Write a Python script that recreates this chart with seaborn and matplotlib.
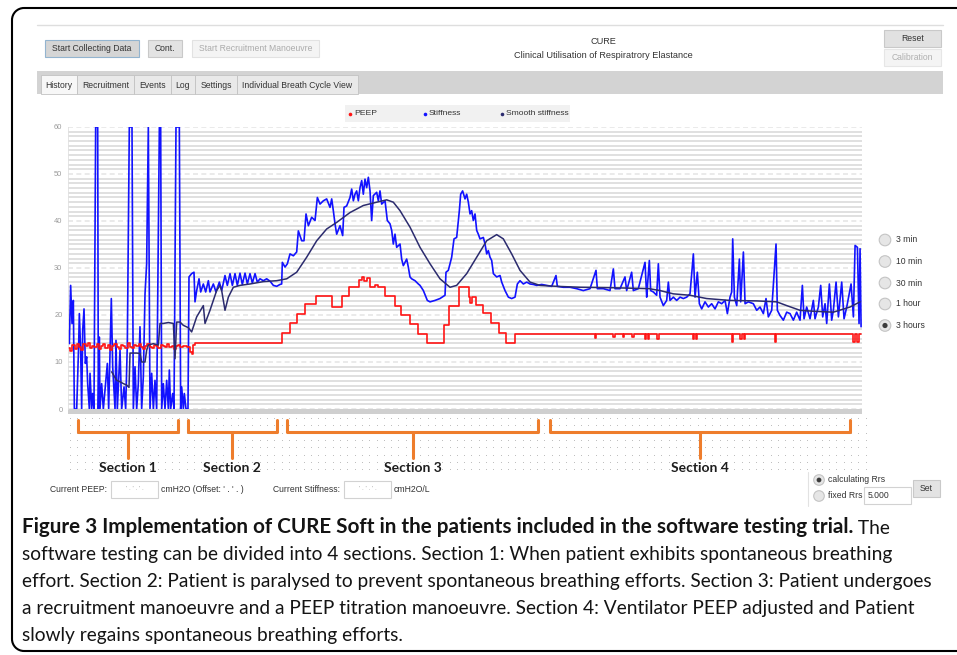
import numpy as np
import pandas as pd
import seaborn as sns
import matplotlib
matplotlib.use("Agg")
import matplotlib.pyplot as plt
from matplotlib.patches import Rectangle, Circle, Arc
from matplotlib.transforms import blended_transform_factory


# Values; time in minutes over the 3 hour window.
stiffness_t = [
    0.08, 0.30, 0.60, 0.91, 1.21, 1.44, 1.97, 2.42, 2.57, 2.87, 3.10, 3.33, 3.63, 3.93, 4.23, 4.46,
    4.84, 4.99, 5.37, 5.59, 5.89, 6.27, 6.73, 6.88, 7.10, 7.25, 7.63, 8.01, 8.92, 9.22, 9.82, 10.13,
    10.66, 10.88, 11.18, 11.79, 12.17, 12.70, 13.07, 13.45, 13.90, 14.51, 14.81, 15.19, 15.57, 15.94,
    16.32, 16.70, 17.08, 17.46, 17.83, 18.21, 18.59, 18.97, 19.35, 19.72, 20.10, 20.71, 21.01, 21.24,
    21.61, 21.99, 22.37, 22.75, 22.97, 23.27, 23.73, 24.03, 24.48, 25.24, 25.54, 25.77, 26.15, 26.37,
    26.75, 27.20,
    27.43, 28.03, 28.56, 28.79, 29.17, 29.70, 30.08, 30.68, 31.21, 31.82, 32.19, 32.95, 33.55, 34.31,
    34.84, 35.59, 36.12, 36.73, 37.26, 37.86, 38.39, 38.99, 39.52, 40.13, 40.66, 41.26, 41.79, 42.40,
    42.92, 43.53, 44.28, 45.04, 45.80, 46.55, 47.31, 48.06, 48.44,
    48.59, 49.20, 49.73, 50.33, 51.09, 51.84, 52.22, 52.98, 53.50, 53.96, 54.49, 55.24, 56.00, 56.53,
    57.13, 57.89, 58.64, 59.40, 59.78, 60.15, 60.53, 60.91, 61.66, 62.27, 62.57, 63.17, 63.93, 64.31,
    64.69, 65.06, 65.44, 65.82, 66.20, 66.58, 66.95, 67.33, 67.71, 68.09, 68.47, 68.84, 69.22, 69.98,
    70.35, 70.73, 71.11, 71.87, 72.39, 73.00, 73.38, 73.75, 74.13, 74.51, 75.27, 75.64, 76.02, 76.78,
    77.15, 77.53, 77.91, 78.67, 79.42, 79.80, 80.56, 81.46, 82.07, 83.20, 84.33, 85.47, 85.69, 86.22,
    86.98, 87.51, 88.11, 88.72, 89.02, 89.46, 90.00, 90.38, 90.76, 91.14, 91.51, 91.89, 92.27, 92.65,
    93.02, 93.40, 94.16, 94.54, 94.92, 95.29, 95.67, 96.05, 96.43, 97.18, 97.94, 98.32, 99.07, 99.83,
    100.58, 101.34, 101.87, 102.47, 103.23, 103.99, 104.74, 105.50, 106.25, 107.39,
    108.52, 109.65, 110.63, 110.93, 112.29, 113.80, 115.31, 116.83, 118.34, 119.70, 120.00, 121.36,
    122.87, 123.63, 124.00, 125.14, 126.27, 126.65, 127.78, 128.16, 129.29, 130.81, 131.19, 131.34,
    131.79, 132.09, 132.70, 133.45, 133.83, 134.21, 134.96, 135.72, 136.10, 136.48, 137.23, 137.99,
    138.75, 139.50, 140.26, 141.01, 141.77, 142.15, 142.67, 143.13, 143.66, 144.41, 145.17, 145.92,
    146.68, 147.44, 148.19, 148.95, 149.48, 150.08, 150.46, 150.69, 151.07, 151.60, 152.20, 152.50,
    153.11, 153.49, 154.24, 155.37, 156.13, 156.88, 157.64, 158.24, 158.77, 159.53, 160.51, 160.81,
    161.41, 162.17, 162.93, 163.68, 164.44, 165.19, 165.95, 166.48, 166.86, 167.46, 168.22, 168.97,
    169.35, 170.11, 170.64, 171.09, 171.62, 172.00, 172.60, 173.13, 173.51, 174.12, 174.65, 175.40,
    175.93, 176.54, 177.52, 178.05, 178.43, 178.96, 179.33, 179.56, 179.79,
]
stiffness_v = [
    16.7, 13.9, 26.3, 18.2, 23.1, 0, 0, 13.9, 20.3, 12.5, 0, 16.7, 21.3, 9.7, 11.1, 5.4,
    0, 7.6, 0, 3.3, 0, 60, 60, 0, 15.3, 0, 5.4, 0, 9.7, 0, 23.5, 9.0,
    0, 14.6, 0, 12.5, 0, 4.7, 0, 13.9, 60, 60, 0, 9.0, 0, 5.4,
    17.5, 0, 6.9, 24.5, 30.9, 60, 0, 7.6, 0, 6.1, 0, 60, 60, 0,
    5.4, 0, 6.1, 0, 8.3, 0, 3.3, 0, 60, 60, 0, 4.7, 0, 3.3,
    0, 0,
    28.1, 28.8, 29.1, 22.8, 25.2, 27.7, 24.9, 26.6, 24.9, 27.3, 24.9, 26.6, 24.9, 27.0,
    25.2, 28.4, 26.3, 28.8, 26.3, 28.8, 26.3, 28.9, 26.5, 28.9, 26.6, 28.8, 26.8, 28.8,
    27.0, 27.7, 27.3, 27.7, 27.2, 26.3, 26.1, 26.5, 26.6,
    31.2, 30.2, 30.9, 33.0, 32.6, 33.4, 37.9, 35.8, 35.8, 41.5, 39.0, 40.8, 40.1, 45.0,
    43.6, 44.3, 44.7, 42.9, 44.7, 42.2, 39.4, 37.2, 39.0, 36.9, 42.9, 43.2, 45.0, 46.8,
    44.3, 45.7, 46.4, 44.3, 47.1, 48.6, 45.7, 48.9, 47.1, 49.3, 46.4, 40.1, 45.4, 46.1,
    44.3, 46.4, 43.6, 44.3, 40.1, 39.4, 38.0, 35.1, 37.2, 34.4, 35.1, 31.9, 30.5, 31.9,
    30.2, 28.1, 27.7, 27.3, 26.6, 26.3, 25.2, 23.1, 22.8, 23.1, 23.5, 24.2, 29.1, 29.5,
    32.3, 36.2, 36.5, 42.2, 45.7, 46.4, 44.7, 45.7, 44.0, 41.5, 42.2, 40.1, 41.5, 38.0,
    37.2, 36.2, 36.5, 35.1, 33.0, 33.7, 32.3, 31.6, 28.8, 28.1, 28.4, 27.0, 25.2, 23.8,
    23.5, 23.8, 26.6, 27.3, 26.6, 27.0, 26.6, 26.5, 26.3, 26.5,
    26.3, 26.1, 28.4, 26.1, 25.9, 25.9, 25.6, 25.2, 25.6, 29.5, 25.6, 25.6,
    25.2, 29.8, 25.6, 25.6, 28.1, 25.2, 29.1, 25.2, 25.6, 31.2, 23.8, 25.9,
    31.6, 25.2, 24.9, 24.2, 30.9, 23.8, 22.0, 23.1, 27.0, 23.1, 23.8, 23.1,
    23.8, 23.5, 23.8, 24.5, 33.0, 23.8, 29.1, 22.4, 21.3, 22.8, 21.7, 22.4,
    21.3, 22.8, 22.4, 23.1, 20.3, 23.8, 24.9, 36.2, 23.8, 22.0, 31.9, 22.8,
    33.4, 22.4, 22.8, 22.4, 21.0, 21.7, 20.3, 23.5, 19.6, 21.0, 35.1, 21.0,
    19.9, 18.9, 20.6, 20.3, 18.9, 20.6, 18.9, 26.3, 19.2, 21.7, 19.2, 23.1,
    19.2, 21.7, 26.3, 19.6, 22.4, 18.2, 26.6, 18.9, 21.0, 27.0, 19.6, 27.0,
    19.2, 21.7, 26.6, 19.6, 34.8, 34.4, 18.2, 34.1, 17.5,
]

# PEEP is a stepped trace: each value holds until the next time
peep_t = [
    0.0, 0.5, 1.0, 1.5, 2.0, 2.5, 3.0, 3.5, 4.0, 4.5, 5.0, 5.5, 6.0, 6.5, 7.0, 7.5, 8.0, 8.5,
    9.0, 9.5, 10.0, 10.5, 11.0, 11.5, 12.0, 12.5, 13.0, 13.5, 14.0, 14.5, 15.0, 15.5, 16.0, 16.5,
    17.0, 17.5, 18.0, 18.5, 19.0, 19.5, 20.0, 20.5, 21.0, 21.5, 22.0, 22.5, 23.0, 23.5, 24.0, 24.5,
    25.0, 25.5, 26.0, 26.5, 27.0,
    27.6, 28.0, 28.4, 28.8, 48.45, 50.3, 51.85, 53.7, 56.2, 59.9, 62.2, 63.6, 65.9, 66.6, 67.2,
    67.8, 68.5, 69.5, 70.2, 71.9, 74.2, 75.6, 77.5, 79.4, 81.4, 85.2, 86.3, 88.6, 90.9, 91.2,
    91.6, 92.5, 94.0, 95.9, 97.8, 99.3, 101.4,
    119.5, 119.8, 123.6, 123.9, 125.8, 126.1, 127.9, 128.2, 130.8, 131.1, 131.5, 131.8, 133.6,
    133.9, 141.7, 142.0, 142.4, 142.7, 150.5, 150.8, 152.4, 152.7, 153.2, 153.5, 160.3, 160.6,
    178.0, 178.4, 178.9, 179.3, 179.8,
]
peep_v = [
    13.0, 12.4, 13.6, 12.8, 13.9, 13.2, 12.6, 13.8, 13.4, 14.1, 12.9, 13.5, 13.1, 13.9, 12.7, 13.4,
    13.8, 13.0, 13.6, 12.5, 13.3, 13.9, 13.1, 12.8, 13.7, 13.4, 13.0, 14.0, 13.2, 12.9, 13.6, 13.3,
    13.8, 13.1, 12.8, 13.5, 13.9, 13.2, 13.0, 13.6, 13.4, 12.9, 13.7, 13.3, 13.1, 13.8, 13.2, 13.5,
    12.8, 13.4, 13.6, 13.1, 13.3, 13.5, 13.2,
    12.2, 11.8, 13.6, 14.0, 16.1, 18.2, 20.2, 22.3, 24.0, 21.8, 24.0, 26.0, 27.4, 28.0, 27.2,
    27.9, 26.0, 26.3, 26.0, 24.0, 22.0, 20.0, 18.0, 16.0, 14.0, 17.9, 21.9, 26.0, 23.9, 22.6,
    23.9, 22.1, 20.4, 18.2, 16.1, 14.0, 16.0,
    15.2, 16.0, 15.3, 16.0, 15.4, 16.0, 15.3, 16.0, 14.8, 16.0, 14.9, 16.0, 15.0,
    16.0, 14.8, 16.0, 14.9, 16.0, 14.3, 16.0, 14.9, 16.0, 14.8, 16.0, 14.2, 16.0,
    14.2, 16.0, 14.3, 15.9, 15.9,
]

smooth_t = [
    9.90, 11.03, 11.79, 12.55, 13.30, 13.83, 14.06, 15.57, 16.32, 16.70, 17.46, 17.83, 18.21, 19.35,
    20.48, 20.86, 21.61, 22.75, 23.88, 24.26, 24.64, 25.39, 26.15, 27.28, 28.03, 29.17, 30.68, 31.06,
    32.19, 33.70, 34.46, 34.84, 35.59, 36.35, 37.48, 38.99, 41.26, 44.28, 47.31, 49.58, 51.84, 54.11,
    56.38, 58.64, 60.91, 63.93, 66.95, 69.98, 72.25, 73.75, 75.27, 77.53, 79.80, 82.07, 84.33, 86.60,
    88.11, 90.38, 92.65, 94.92, 97.18, 98.69, 100.58, 102.47, 104.74, 107.00, 110.78, 116.07, 123.63,
    131.79, 134.21, 137.23, 141.01, 144.79, 150.08, 156.13, 160.66, 162.93, 165.95, 168.97, 173.51,
    177.29, 179.56,
]
smooth_v = [
    7.9, 6.1, 5.8, 5.4, 5.1, 4.6, 11.9, 11.9, 11.8, 10.0, 10.0, 12.5, 13.6, 13.9,
    13.6, 18.2, 18.2, 18.4, 18.2, 10.7, 18.5, 18.5, 17.8, 17.3, 16.4, 19.6, 22.0, 18.2,
    21.0, 25.2, 26.3, 25.2, 21.0, 23.8, 25.9, 26.3, 26.6, 27.1, 27.3, 27.7, 29.1, 32.3,
    35.8, 38.3, 39.7, 41.8, 43.3, 44.0, 44.5, 44.0, 42.2, 38.7, 34.4, 30.9, 27.7, 25.9,
    26.3, 28.8, 32.3, 35.8, 37.1, 36.2, 33.0, 29.5, 27.0, 26.3, 26.1, 25.9, 25.8,
    25.6, 25.2, 24.5, 24.2, 23.5, 23.1, 23.0, 22.8, 22.0, 21.0, 20.8, 20.6,
    21.7, 22.8,
]

y_ticks = [0, 10, 20, 30, 40, 50, 60]
series_names = ["PEEP", "Stiffness", "Smooth stiffness"]
series_colors = ["#ff1414", "#1212ff", "#2b2b6e"]

section_names = ["Section 1", "Section 2", "Section 3", "Section 4"]
section_start = [2.2, 27.1, 49.6, 109.3]
section_end = [24.9, 47.4, 106.6, 177.3]

range_options = ["3 min", "10 min", "30 min", "1 hour", "3 hours"]
tab_names = ["History", "Recruitment", "Events", "Log", "Settings", "Individual Breath Cycle View"]

caption_head = "Figure 3 Implementation of CURE Soft in the patients included in the software testing trial."
caption_lines = [
    "software testing can be divided into 4 sections. Section 1: When patient exhibits spontaneous breathing",
    "effort. Section 2: Patient is paralysed to prevent spontaneous breathing efforts. Section 3: Patient undergoes",
    "a recruitment manoeuvre and a PEEP titration manoeuvre. Section 4: Ventilator PEEP adjusted and Patient",
    "slowly regains spontaneous breathing efforts.",
]

sns.set_style("white")
plt.rcParams["font.family"] = ["Liberation Sans", "DejaVu Sans"]

W, H = 957, 655
fig = plt.figure(figsize=(W / 100, H / 100), dpi=100)

# overlay in pixel units for the screenshot chrome
ui = fig.add_axes([0, 0, 1, 1])
ui.set_xlim(0, W)
ui.set_ylim(H, 0)
ui.axis("off")


def box(x0, y0, x1, y1, fc, ec="none", lw=0.8, z=1):
    ui.add_patch(Rectangle((x0, y0), x1 - x0, y1 - y0, fc=fc, ec=ec, lw=lw, zorder=z))


def label(x, y, s, size=6.2, color="#333333", ha="left", **kw):
    return ui.text(x, y, s, fontsize=size, color=color, ha=ha, va="center", zorder=3, **kw)


def radio(x, y, r, on):
    ui.add_patch(Circle((x, y), r, fc="#e6e6e6", ec="#c4c4c4", lw=0.8, zorder=2))
    if on:
        ui.add_patch(Circle((x, y), r * 0.45, fc="#3c3c3c", ec="none", zorder=3))


# outer rounded frame of the panel (runs off the right edge)
rr = 12
frame = dict(color="black", lw=1.5, zorder=5, solid_capstyle="butt")
ui.plot([12 + rr, W + 5], [8, 8], **frame)
ui.plot([12 + rr, W + 5], [651, 651], **frame)
ui.plot([12, 12], [8 + rr, 651 - rr], **frame)
ui.add_patch(Arc((12 + rr, 8 + rr), 2 * rr, 2 * rr, theta1=180, theta2=270, color="black", lw=1.5, zorder=5))
ui.add_patch(Arc((12 + rr, 651 - rr), 2 * rr, 2 * rr, theta1=90, theta2=180, color="black", lw=1.5, zorder=5))
ui.plot([37, 943], [25, 25], color="#dedede", lw=1.0)

# top buttons and title
box(45, 40, 139, 57, "#d5d5d5", "#93b4cf")
label(92, 48.5, "Start Collecting Data", ha="center")
box(148, 40, 182, 57, "#e3e3e3", "#c9c9c9")
label(165, 48.5, "Cont.", ha="center")
box(192, 40, 319, 57, "#f4f4f4", "#e2e2e2")
label(255.5, 48.5, "Start Recruitment Manoeuvre", ha="center", color="#ababab")
label(603, 42, "CURE", ha="center", size=6.6)
label(603, 55, "Clinical Utilisation of Respiratrory Elastance", ha="center", size=6.6)
box(884, 30, 941, 47, "#e1e1e1", "#c9c9c9")
label(912.5, 38.5, "Reset", ha="center")
box(884, 49, 941, 66, "#f4f4f4", "#e6e6e6")
label(912.5, 57.5, "Calibration", ha="center", color="#b0b0b0")

# tab strip
box(37, 71, 943, 94, "#d3d3d3")
tab_edges = [41, 77, 134, 171, 195, 237, 358]
for i, name in enumerate(tab_names):
    box(tab_edges[i], 75, tab_edges[i + 1], 94, "#f7f7f7" if i == 0 else "#e9e9e9", "#c2c2c2", lw=0.6)
    label((tab_edges[i] + tab_edges[i + 1]) / 2, 85, name, ha="center")

# legend strip
box(345, 105, 570, 122, "#f1f1f1")
for x, name, col in zip([350, 425, 502], series_names, series_colors):
    ui.plot(x, 113.5, "o", ms=2.6, color=col, mec="none", zorder=3)
    label(x + 4, 113.5, name, size=6.1)

# main chart
ax = fig.add_axes([68 / W, 1 - 409 / H, 794 / W, 282 / H])
ax.patch.set_alpha(0)

stiff_df = pd.DataFrame({"t": stiffness_t, "v": stiffness_v})
peep_df = pd.DataFrame({"t": peep_t, "v": peep_v})
smooth_df = pd.DataFrame({"t": smooth_t, "v": smooth_v})

sns.lineplot(data=stiff_df, x="t", y="v", color=series_colors[1], lw=1.2,
             estimator=None, sort=False, ax=ax)
sns.lineplot(data=peep_df, x="t", y="v", color=series_colors[0], lw=1.2,
             drawstyle="steps-post", estimator=None, sort=False, ax=ax)
sns.lineplot(data=smooth_df, x="t", y="v", color=series_colors[2], lw=1.1,
             estimator=None, sort=False, ax=ax)

ax.set_xlim(0, 180)
ax.set_ylim(0, 60)
ax.set_xticks([])
ax.set_yticks(y_ticks)
ax.set_yticks(range(1, 60), minor=True)
ax.yaxis.grid(True, which="minor", color="#dcdcdc", lw=1.25)
ax.yaxis.grid(True, which="major", color="#e6e6e6", lw=1.2, ls=(0, (3, 2)))
ax.set_axisbelow(True)
ax.tick_params(axis="y", which="minor", length=0)
ax.tick_params(axis="y", which="major", length=3, width=0.6, color="#c0c0c0",
               labelsize=5.4, labelcolor="#9a9a9a", pad=1)
for s in ["top", "right", "bottom"]:
    ax.spines[s].set_visible(False)
ax.spines["left"].set_color("#e0e0e0")
ax.spines["left"].set_linewidth(0.6)
ax.set_xlabel("")
ax.set_ylabel("")

# band under the zero line and the dotted annotation area
box(68, 409, 862, 414, "#cfcfcf")
gx, gy = np.meshgrid(np.arange(70, 866, 7.3), np.arange(418, 472, 7.3))
ui.scatter(gx.ravel(), gy.ravel(), s=0.45, color="#b8b8b8", lw=0, zorder=1)

# orange section brackets, x in chart time, y in pixels
trans = blended_transform_factory(ax.transData, ui.transData)
orange = "#ee7d2c"
for name, s, e in zip(section_names, section_start, section_end):
    m = (s + e) / 2
    ui.plot([s, s, e, e], [420, 432, 432, 420], transform=trans, color=orange, lw=2.2,
            solid_joinstyle="round", solid_capstyle="round", zorder=3)
    ui.plot([m, m], [432, 458], transform=trans, color=orange, lw=2.2, solid_capstyle="round", zorder=3)
    ui.text(m, 468, name, transform=trans, ha="center", va="center", fontsize=10,
            fontweight="bold", color="#1e1e1e", family=["Lato", "DejaVu Sans"], zorder=3)

# range radio buttons on the right
for i, opt in enumerate(range_options):
    y = [240, 261.5, 283, 304, 325.5][i]
    radio(885, y, 5.8, opt == "3 hours")
    label(896, y, opt)

# current value fields
label(50, 490, "Current PEEP:")
box(111, 481, 158, 498, "white", "#d2d2d2")
label(134.5, 489, "' . ' . ' .", ha="center", size=4.5, color="#999999")
label(161, 490, "cmH2O (Offset: ' . ' . )")
label(273, 490, "Current Stiffness:")
box(344, 481, 391, 498, "white", "#d2d2d2")
label(367.5, 489, "' . ' . ' .", ha="center", size=4.5, color="#999999")
label(394, 490, "cmH2O/L")

ui.plot([808, 808], [472, 506], color="#e2e2e2", lw=0.8)
radio(819, 480, 5.3, True)
label(828, 480, "calculating Rrs")
radio(819, 496, 5.3, False)
label(828, 496, "fixed Rrs")
box(864, 487, 911, 504, "white", "#d2d2d2")
label(868, 495.5, "5.000")
box(913, 480, 940, 497, "#e3e3e3", "#c9c9c9")
label(926.5, 488.5, "Set", ha="center")

# caption
cap_family = ["Lato", "Liberation Sans", "DejaVu Sans"]
head = ui.text(22, 533, caption_head, fontsize=14, fontweight="bold", family=cap_family,
               va="baseline", color="#141414")
tail = ui.annotate(" The", xy=(1, 0), xycoords=head, va="bottom", ha="left", fontsize=14,
                   family=cap_family, color="#141414")
body = []
for line, y in zip(caption_lines, [560, 587, 614, 641]):
    body.append(ui.text(22, y, line, fontsize=14, family=cap_family, va="baseline", color="#141414"))

# scale caption so the lines span the measured widths
fig.canvas.draw()
rend = fig.canvas.get_renderer()
k = (937 - 22) / body[1].get_window_extent(rend).width
for t in [tail] + body:
    t.set_fontsize(t.get_fontsize() * k)
kh = (866 - 22) / head.get_window_extent(rend).width
head.set_fontsize(head.get_fontsize() * min(kh, k * 1.08))

fig.savefig("out.png", dpi=100)
